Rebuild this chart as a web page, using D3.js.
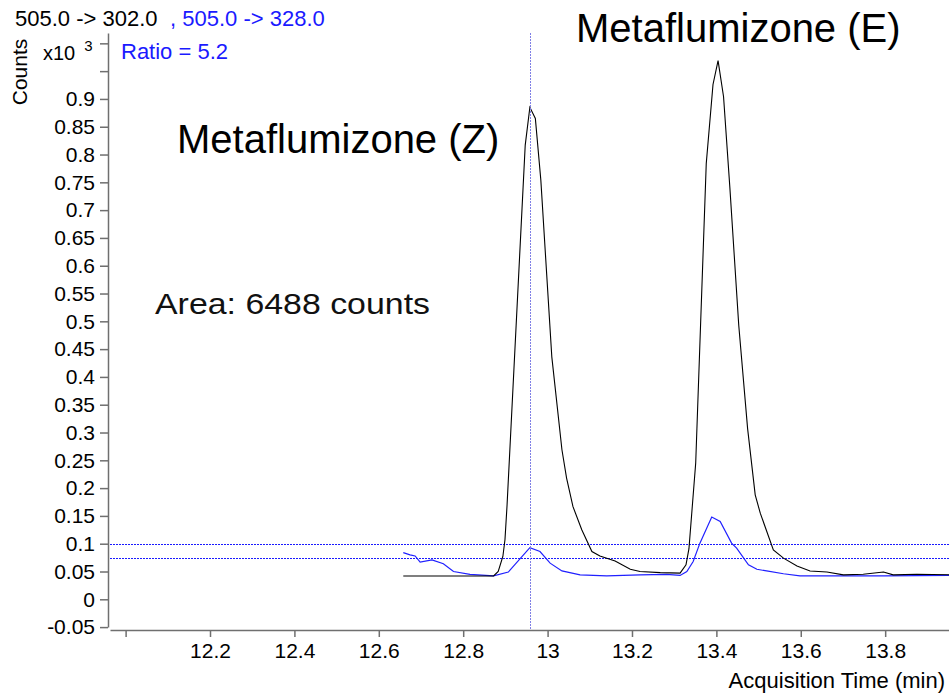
<!DOCTYPE html>
<html>
<head>
<meta charset="utf-8">
<script src="https://cdn.jsdelivr.net/npm/d3@7"></script>
<style>
  body { margin: 0; background: #ffffff; }
  svg { display: block; }
  text { font-family: "Liberation Sans", Arial, sans-serif; }
</style>
</head>
<body>
<svg id="chart" width="949" height="694"></svg>
<script>
// MRM transition 505.0 -> 302.0 (quantifier), counts x10^3
const quantTimes = [12.658, 12.872, 12.883, 12.894, 12.899, 12.904, 12.947, 12.958, 12.971, 12.984,
  13.010, 13.034, 13.045, 13.060, 13.081, 13.105, 13.124, 13.160, 13.196, 13.219,
  13.267, 13.314, 13.328, 13.335, 13.351, 13.376, 13.392, 13.404, 13.417, 13.432,
  13.453, 13.474, 13.492, 13.504, 13.535, 13.559, 13.591, 13.622, 13.662, 13.701,
  13.748, 13.796, 13.819, 13.875, 13.960];
const quantCounts = [0.042, 0.042, 0.050, 0.077, 0.107, 0.170, 0.817, 0.885, 0.865, 0.754,
  0.436, 0.269, 0.218, 0.167, 0.125, 0.086, 0.078, 0.069, 0.054, 0.050,
  0.048, 0.047, 0.062, 0.091, 0.245, 0.784, 0.926, 0.969, 0.904, 0.740,
  0.493, 0.307, 0.188, 0.155, 0.089, 0.074, 0.060, 0.051, 0.049, 0.044,
  0.045, 0.049, 0.044, 0.045, 0.044];

// MRM transition 505.0 -> 328.0 (qualifier), counts x10^3
const qualTimes = [12.658, 12.674, 12.686, 12.698, 12.726, 12.753, 12.777, 12.816, 12.872, 12.907,
  12.958, 12.982, 13.006, 13.034, 13.077, 13.140, 13.219, 13.282, 13.314, 13.330,
  13.345, 13.361, 13.389, 13.409, 13.436, 13.448, 13.476, 13.496, 13.519, 13.559,
  13.598, 13.717, 13.796, 13.960];
const qualCounts = [0.084, 0.080, 0.078, 0.067, 0.071, 0.064, 0.050, 0.045, 0.042, 0.049,
  0.093, 0.086, 0.065, 0.051, 0.044, 0.042, 0.044, 0.045, 0.043, 0.050,
  0.068, 0.101, 0.148, 0.140, 0.101, 0.092, 0.062, 0.054, 0.051, 0.046,
  0.042, 0.042, 0.042, 0.043];

// Axis ticks
const yTicks = [-0.05, 0, 0.05, 0.1, 0.15, 0.2, 0.25, 0.3, 0.35, 0.4, 0.45, 0.5,
  0.55, 0.6, 0.65, 0.7, 0.75, 0.8, 0.85, 0.9, 0.95, 1.0];
const yTickLabels = ["-0.05", "0", "0.05", "0.1", "0.15", "0.2", "0.25", "0.3", "0.35", "0.4", "0.45", "0.5",
  "0.55", "0.6", "0.65", "0.7", "0.75", "0.8", "0.85", "0.9", "", ""];
const xTicks = [12.0, 12.2, 12.4, 12.6, 12.8, 13.0, 13.2, 13.4, 13.6, 13.8];
const xTickLabels = ["", "12.2", "12.4", "12.6", "12.8", "13", "13.2", "13.4", "13.6", "13.8"];

// Retention-time cursor and qualifier ratio limits (x10^3 counts)
const cursorTime = 12.958;
const limitLevels = [0.1, 0.074];

// Text
const quantTitle = "505.0 -> 302.0";
const qualTitle = ", 505.0 -> 328.0";
const ratioLabel = "Ratio = 5.2";
const peakLabels = ["Metaflumizone (Z)", "Metaflumizone (E)"];
const areaLabel = "Area: 6488 counts";

const svg = d3.select("#chart");
const W = 949, H = 694;

const x = d3.scaleLinear().domain([11.963, 13.956]).range([110, 951]);
const y = d3.scaleLinear().domain([-0.05, 1.0186]).range([627.1, 33]);
const crisp = v => Math.round(v) + 0.5;

// Y axis
const yAxis = d3.axisLeft(y).tickValues(yTicks)
  .tickFormat((d, i) => yTickLabels[i]).tickSize(8).tickSizeOuter(0).tickPadding(5);
const gy = svg.append("g").attr("transform", "translate(108,0)").call(yAxis);
gy.select(".domain").attr("stroke", "#6f6f6f").attr("stroke-width", 1.5);
gy.selectAll(".tick line").attr("stroke", "#6f6f6f").attr("stroke-width", 1.5);
gy.selectAll(".tick text").attr("font-size", 21).attr("fill", "#000")
  .attr("font-family", "'Liberation Sans', Arial, sans-serif");

// X axis
const xAxis = d3.axisBottom(x).tickValues(xTicks)
  .tickFormat((d, i) => xTickLabels[i]).tickSize(7).tickSizeOuter(0).tickPadding(6);
const gx = svg.append("g").attr("transform", "translate(0,630)").call(xAxis);
gx.select(".domain").attr("stroke", "#6f6f6f").attr("stroke-width", 1.5);
gx.selectAll(".tick line").attr("stroke", "#6f6f6f").attr("stroke-width", 1.5);
gx.selectAll(".tick text").attr("font-size", 21).attr("fill", "#000")
  .attr("font-family", "'Liberation Sans', Arial, sans-serif");

// Axis titles
svg.append("text").text("Acquisition Time (min)")
  .attr("x", 945).attr("y", 688).attr("text-anchor", "end").attr("font-size", 22);
svg.append("text").text("Counts")
  .attr("transform", "translate(27,72) rotate(-90)").attr("text-anchor", "middle")
  .attr("font-size", 21);
const mult = svg.append("text").attr("x", 43).attr("y", 60).attr("font-size", 20);
mult.append("tspan").text("x10");
mult.append("tspan").text("3").attr("dx", 9).attr("dy", -9).attr("font-size", 15);

// Plot clip
svg.append("clipPath").attr("id", "plot-clip").append("rect")
  .attr("x", 110).attr("y", 30).attr("width", W - 110).attr("height", 600);
const plot = svg.append("g").attr("clip-path", "url(#plot-clip)");

// Qualifier limit lines
plot.selectAll("line.limit").data(limitLevels).join("line").attr("class", "limit")
  .attr("x1", 110).attr("x2", W).attr("y1", d => crisp(y(d))).attr("y2", d => crisp(y(d)))
  .attr("stroke", "#1a1aff").attr("stroke-width", 1).attr("stroke-dasharray", "2,1");

// Cursor line
svg.append("line")
  .attr("x1", crisp(x(cursorTime))).attr("x2", crisp(x(cursorTime))).attr("y1", 33).attr("y2", 630)
  .attr("stroke", "#8080e6").attr("stroke-width", 1).attr("stroke-dasharray", "2,1");

const line = d3.line().x(d => x(d[0])).y(d => y(d[1]));

plot.append("path").datum(d3.zip(qualTimes, qualCounts))
  .attr("d", line).attr("fill", "none").attr("stroke", "#2020ff").attr("stroke-width", 1.2);
plot.append("path").datum(d3.zip(quantTimes, quantCounts))
  .attr("d", line).attr("fill", "none").attr("stroke", "#000").attr("stroke-width", 1.1);

// Header
svg.append("text").text(quantTitle).attr("x", 15).attr("y", 26).attr("font-size", 22).attr("fill", "#000");
svg.append("text").text(qualTitle).attr("x", 170).attr("y", 26).attr("font-size", 22).attr("fill", "#1a1aff");
svg.append("text").text(ratioLabel).attr("x", 121).attr("y", 59).attr("font-size", 22).attr("fill", "#1a1aff");

// Peak annotations
svg.append("text").text(peakLabels[0]).attr("x", 177).attr("y", 153).attr("font-size", 40).attr("fill", "#000");
svg.append("text").text(peakLabels[1]).attr("x", 576).attr("y", 42).attr("font-size", 40).attr("fill", "#000");
svg.append("text").text(areaLabel).attr("x", 155).attr("y", 314).attr("font-size", 30)
  .attr("font-family", "'DejaVu Sans', sans-serif").attr("textLength", 275)
  .attr("lengthAdjust", "spacingAndGlyphs").attr("fill", "#111");
</script>
</body>
</html>
